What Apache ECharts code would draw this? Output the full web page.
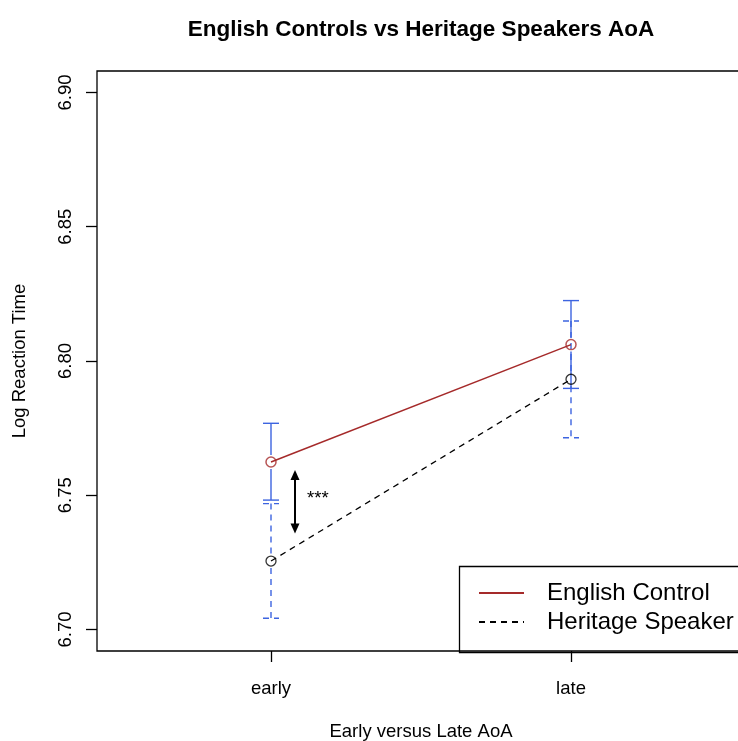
<!DOCTYPE html>
<html>
<head>
<meta charset="utf-8">
<script src="https://cdn.jsdelivr.net/npm/echarts@6/dist/echarts.min.js"></script>
<style>html,body{margin:0;padding:0;background:#fff;}#c{width:738px;height:741px;}</style>
</head>
<body>
<div id="c"></div>
<script>
// ---- data ----
const categories = ['early', 'late'];
const xPositions = [1, 2];
const englishMean = [6.7624, 6.8061];
const englishLow = [6.7482, 6.7898];
const englishHigh = [6.7768, 6.8225];
const heritageMean = [6.7255, 6.7932];
const heritageLow = [6.7042, 6.7714];
const heritageHigh = [6.7469, 6.8149];
const yTicks = [6.70, 6.75, 6.80, 6.85, 6.90];
const sigArrow = [1.08, 6.7594, 6.7358]; // x, top, bottom
const sigLabel = [1.12, 6.7485, '***'];

const FONT = '"Liberation Sans", Arial, Helvetica, sans-serif';
const chart = echarts.init(document.getElementById('c'), null, {renderer: 'canvas'});

function pts(means) { return xPositions.map((x, i) => [x, means[i]]); }
function bars(lo, hi, m) { return xPositions.map((x, i) => [x, lo[i], hi[i], m[i]]); }

function errRender(dashed) {
  return function (params, api) {
    const x = api.value(0);
    const lo = api.coord([x, api.value(1)]);
    const hi = api.coord([x, api.value(2)]);
    const mid = api.coord([x, api.value(3)]);
    const gap = 7, cap = 8;
    const style = {stroke: '#3d64e0', lineWidth: 1.4, lineDash: dashed ? [6, 5] : null};
    return {
      type: 'group',
      children: [
        {type: 'line', shape: {x1: hi[0], y1: hi[1], x2: mid[0], y2: mid[1] - gap}, style},
        {type: 'line', shape: {x1: mid[0], y1: mid[1] + gap, x2: lo[0], y2: lo[1]}, style},
        {type: 'line', shape: {x1: hi[0] - cap, y1: hi[1], x2: hi[0] + cap, y2: hi[1]}, style},
        {type: 'line', shape: {x1: lo[0] - cap, y1: lo[1], x2: lo[0] + cap, y2: lo[1]}, style}
      ]
    };
  };
}

const option = {
  animation: false,
  title: {
    text: 'English Controls vs Heritage Speakers AoA',
    left: 416, top: 13, textAlign: 'center',
    textStyle: {fontFamily: FONT, fontSize: 22.5, fontWeight: 'bold', color: '#000'}
  },
  grid: {left: 97, top: 71, width: 648, height: 580, outerBoundsMode: 'none', containLabel: false,
         show: true, borderColor: '#000', borderWidth: 1.3, backgroundColor: 'transparent'},
  legend: {
    left: 478, top: 581, orient: 'vertical', itemWidth: 45, itemHeight: 14, itemGap: 5, padding: 0,
    itemStyle: {opacity: 0},
    textStyle: {fontFamily: FONT, fontSize: 24, color: '#000', padding: [0, 0, 0, 18]},
    data: ['English Control', 'Heritage Speaker']
  },
  graphic: [{
    type: 'rect', left: 457, top: 564, shape: {width: 300, height: 86},
    style: {fill: 'none', stroke: '#000', lineWidth: 1.3}, z: 1
  }],
  xAxis: {
    type: 'value', min: 0.42, max: 2.58,
    splitLine: {show: false},
    axisLine: {show: false},
    axisTick: {show: true, length: 11, lineStyle: {color: '#000', width: 1.3}, customValues: xPositions},
    axisLabel: {
      customValues: xPositions, margin: 28, color: '#000', fontFamily: FONT, fontSize: 18.5,
      formatter: v => categories[xPositions.indexOf(Math.round(v))] || ''
    },
    name: 'Early versus Late AoA', nameLocation: 'middle', nameGap: 71,
    nameTextStyle: {fontFamily: FONT, fontSize: 18.5, color: '#000'}
  },
  yAxis: {
    type: 'value', min: 6.692, max: 6.908,
    splitLine: {show: false},
    axisLine: {show: false},
    axisTick: {show: true, length: 11, lineStyle: {color: '#000', width: 1.3}, customValues: yTicks},
    axisLabel: {
      customValues: yTicks, rotate: 90, margin: 22, color: '#000', fontFamily: FONT, fontSize: 18.5,
      formatter: v => v.toFixed(2)
    },
    name: 'Log Reaction Time', nameLocation: 'middle', nameGap: 68,
    nameTextStyle: {fontFamily: FONT, fontSize: 18.5, color: '#000'}
  },
  series: [
    {type: 'custom', data: bars(englishLow, englishHigh, englishMean), renderItem: errRender(false), silent: true, z: 2},
    {type: 'custom', data: bars(heritageLow, heritageHigh, heritageMean), renderItem: errRender(true), silent: true, z: 2},
    {name: 'English Control', type: 'line', data: pts(englishMean), symbol: 'none',
     lineStyle: {color: '#a52a2a', width: 1.5}, itemStyle: {color: '#a52a2a'}, z: 3},
    {name: 'Heritage Speaker', type: 'line', data: pts(heritageMean), symbol: 'none',
     lineStyle: {color: '#000', width: 1.3, type: [6, 5]}, itemStyle: {color: '#000'}, z: 3},
    {type: 'scatter', data: pts(englishMean), symbol: 'circle', symbolSize: 10,
     itemStyle: {color: 'rgba(255,255,255,0)', borderColor: '#a52a2a', borderWidth: 1.5}, z: 4},
    {type: 'scatter', data: pts(heritageMean), symbol: 'circle', symbolSize: 10,
     itemStyle: {color: 'rgba(255,255,255,0)', borderColor: '#000', borderWidth: 1.3}, z: 4},
    {type: 'custom', data: [sigArrow], silent: true, z: 5,
     renderItem: function (params, api) {
       const top = api.coord([api.value(0), api.value(1)]);
       const bot = api.coord([api.value(0), api.value(2)]);
       const h = 10, w = 4.5;
       return {type: 'group', children: [
         {type: 'line', shape: {x1: top[0], y1: top[1] + 4, x2: bot[0], y2: bot[1] - 4}, style: {stroke: '#000', lineWidth: 2}},
         {type: 'polygon', shape: {points: [[top[0], top[1]], [top[0] - w, top[1] + h], [top[0] + w, top[1] + h]]}, style: {fill: '#000'}},
         {type: 'polygon', shape: {points: [[bot[0], bot[1]], [bot[0] - w, bot[1] - h], [bot[0] + w, bot[1] - h]]}, style: {fill: '#000'}}
       ]};
     }},
    {type: 'custom', data: [sigLabel], silent: true, z: 5,
     renderItem: function (params, api) {
       const p = api.coord([api.value(0), api.value(1)]);
       return {type: 'text', x: p[0], y: p[1], style: {text: sigLabel[2], fill: '#000', font: '18.5px ' + FONT, textAlign: 'left', textVerticalAlign: 'middle'}};
     }}
  ]
};
chart.setOption(option);
</script>
</body>
</html>
